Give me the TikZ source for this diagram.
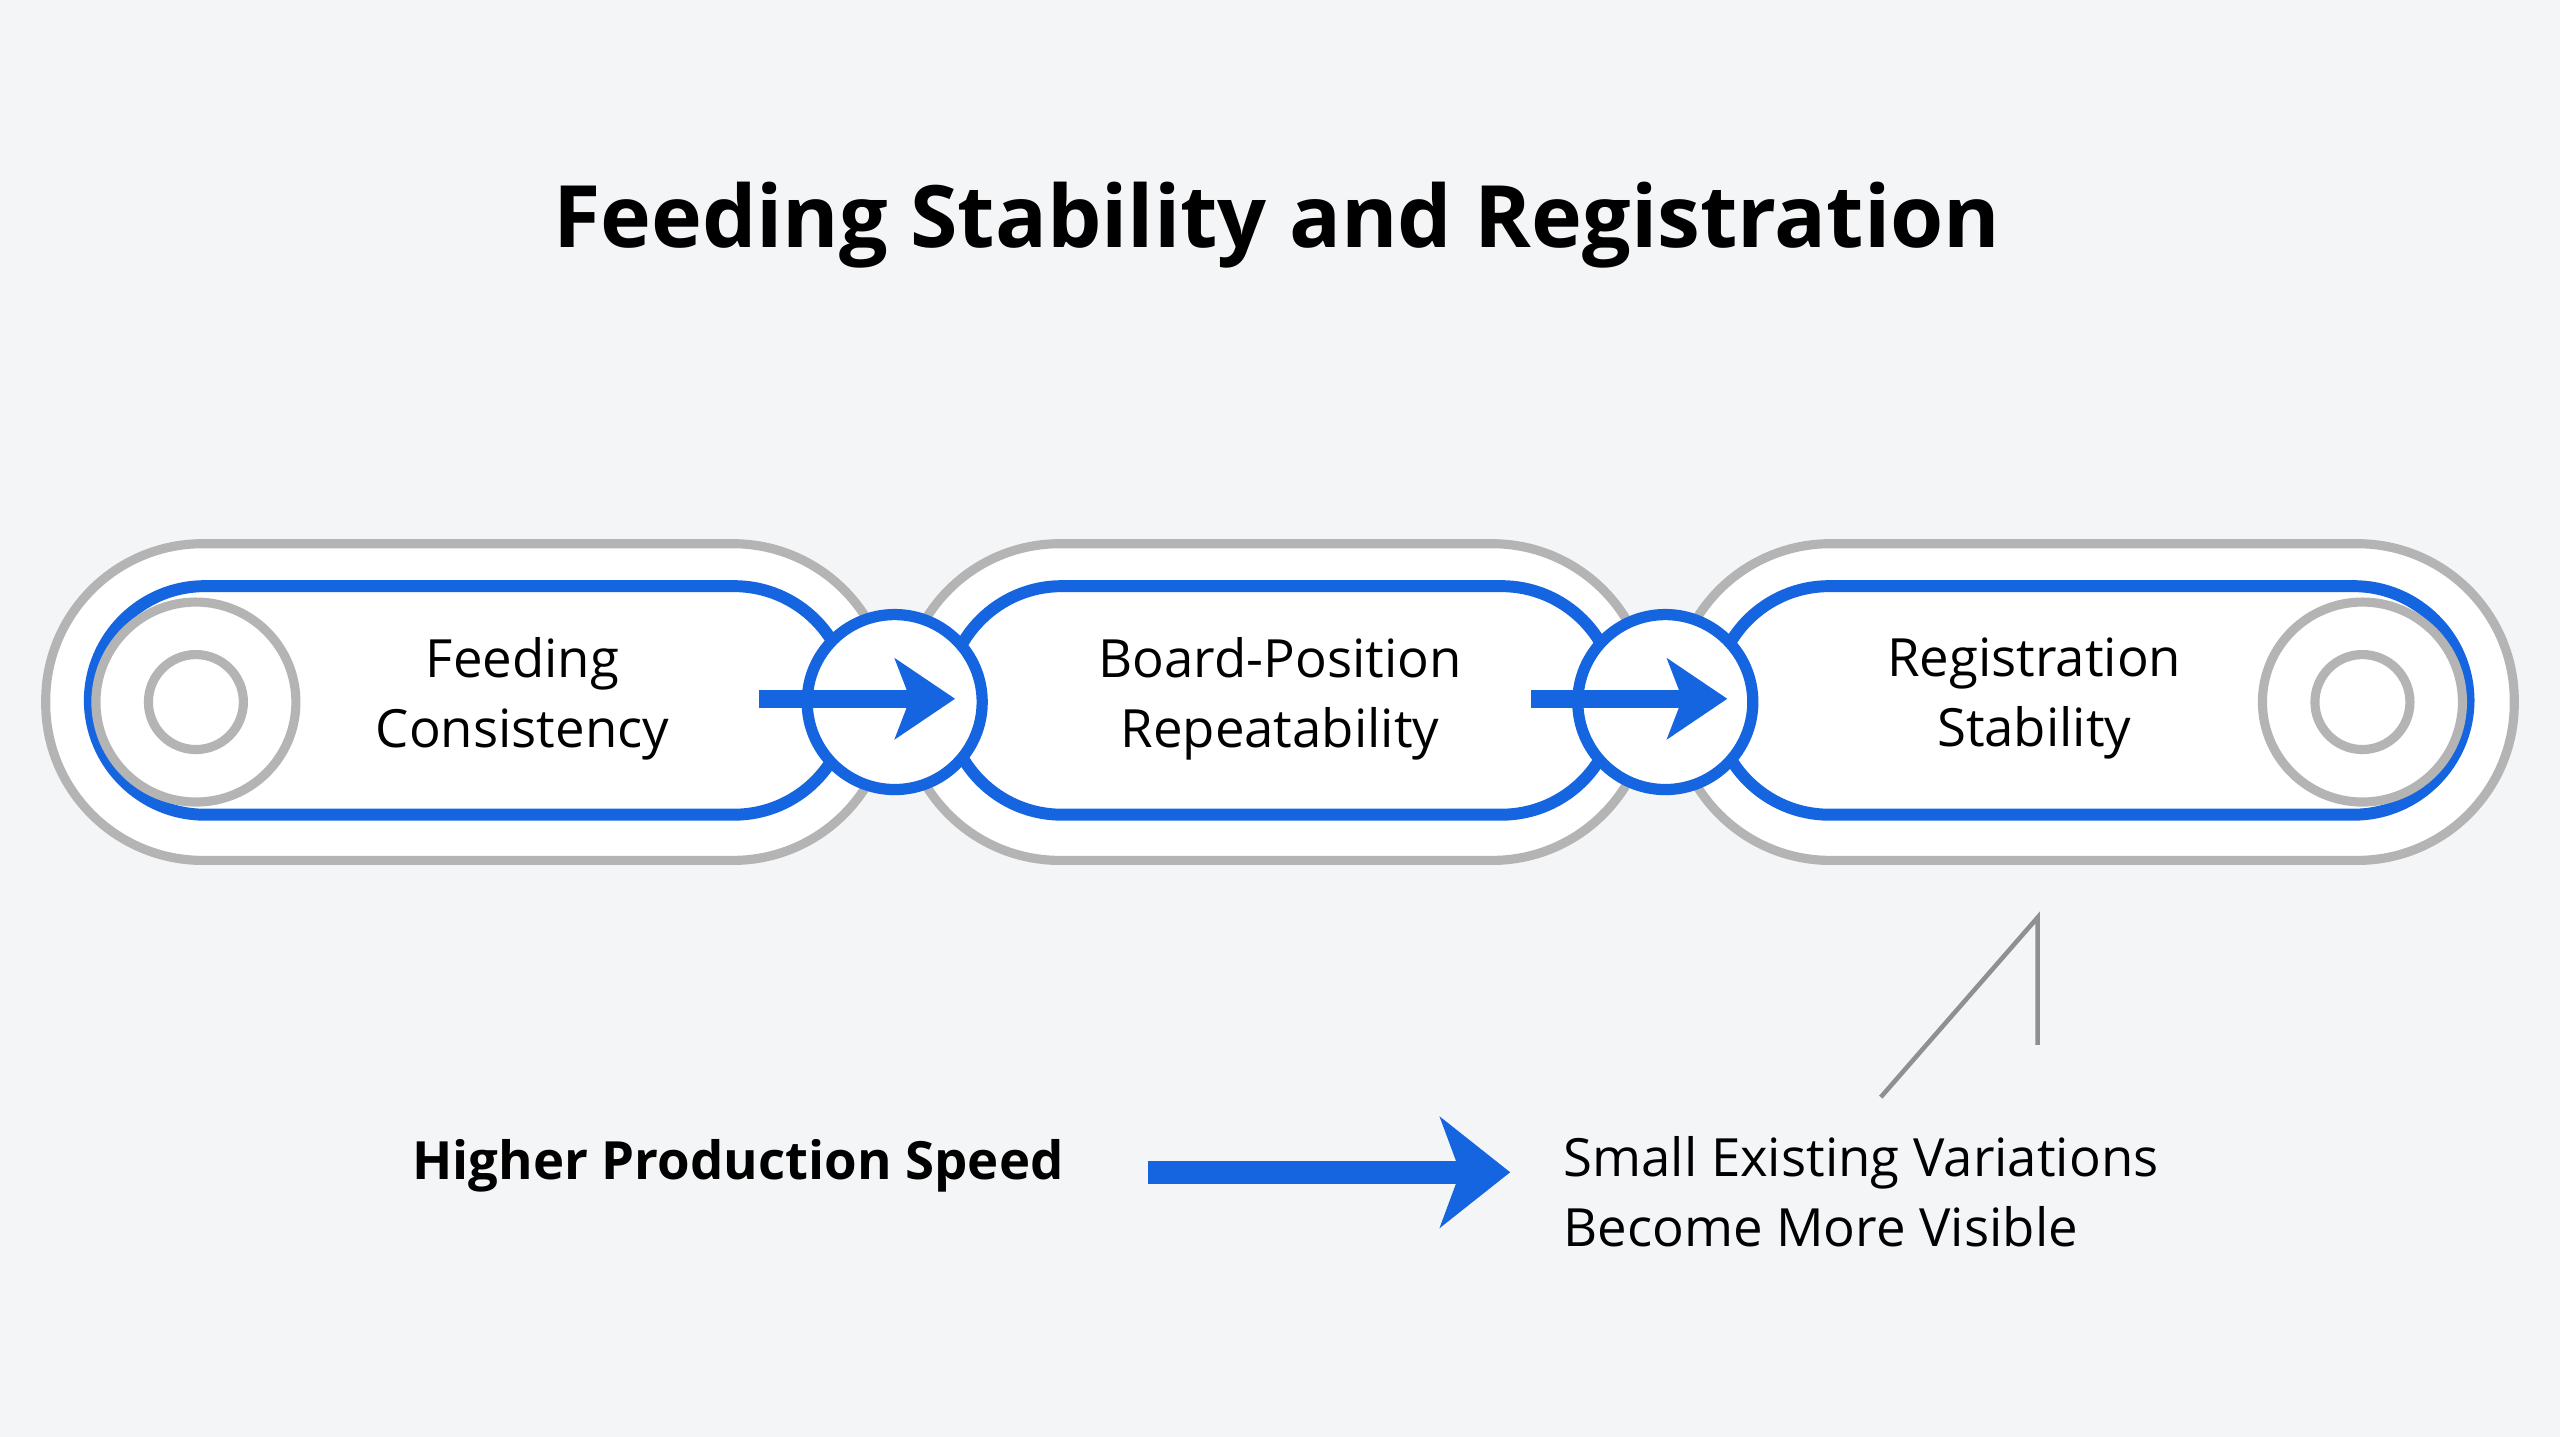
\documentclass[tikz,border=0pt]{standalone}
\usepackage{fontspec}
\setmainfont{Open Sans}
\usepackage{xcolor}
\usetikzlibrary{arrows.meta, positioning, calc}
\definecolor{bgray}{HTML}{F4F5F6}
\definecolor{lgray}{HTML}{B4B4B4}
\definecolor{mblue}{HTML}{1565E0}

\begin{document}
\begin{tikzpicture}[
    x=0.01633cm, y=-0.01633cm,
    joint/.style={circle, draw=mblue, line width=3.2pt, fill=white, minimum size=1.75cm},
    endring/.style={circle, draw=lgray, line width=2.6pt, fill=white, minimum size=#1},
    label/.style={align=center, font=\fontsize{15}{20}\selectfont},
    flow/.style={-{Stealth[length=6mm, width=8mm, inset=1.5mm]}, mblue, line width=5pt},
    bigflow/.style={-{Stealth[length=7mm, width=11mm, inset=2mm]}, mblue, line width=6.5pt}
]
\useasboundingbox (0,0) rectangle (1568,880);
\fill[bgray] (0,0) rectangle (1568,880);

% Title
\node[font=\fontsize{24.5}{30}\selectfont\bfseries] (title) at (782,138) {Feeding Stability and Registration};

% Outer gray capsules
\foreach \a/\b in {28/545, 553/1010, 1025/1540}
  \draw[lgray, line width=2.6pt, fill=white, rounded corners=1.57cm] (\a,333) rectangle (\b,527);

% Inner blue capsules
\foreach \a/\b in {55/520, 580/990, 1050/1512}
  \draw[mblue, line width=3.4pt, fill=white, rounded corners=1.15cm] (\a,359) rectangle (\b,499);

% End rings
\node[endring=2cm] (lend) at (120,430) {};
\node[endring=0.95cm] (lendi) at (120,430) {};
\node[endring=2cm] (rend) at (1447,430) {};
\node[endring=0.95cm] (rendi) at (1447,430) {};

% Texts
\node[label] (feed) at (320,428) {Feeding\\Consistency};
\node[label] (board) at (784,428) {Board-Position\\Repeatability};
\node[label] (reg) at (1246,428) {Registration\\Stability};

% Joints with arrows
\node[joint] (ja) at (548,430) {};
\node[joint] (jb) at (1020,430) {};
\coordinate (ja0) at (465,428);
\coordinate (ja1) at (585,428);
\coordinate (jb0) at (938,428);
\coordinate (jb1) at (1058,428);
\draw[flow] (ja0) -- (ja1);
\draw[flow] (jb0) -- (jb1);

% Pointer line
\coordinate (pa) at (1152,672);
\coordinate (pb) at (1248,562);
\coordinate (pc) at (1248,640);
\draw[lgray!80!black, line width=1.3pt] (pa) -- (pb) -- (pc);

% Bottom row
\node[font=\fontsize{15}{20}\selectfont\bfseries] (speed) at (452,714) {Higher Production Speed};
\node[label, align=left, anchor=west] (vis) at (950,730) {Small Existing Variations\\Become More Visible};
\coordinate (s0) at (703,718);
\coordinate (s1) at (925,718);
\draw[bigflow] (s0) -- (s1);

\end{tikzpicture}
\end{document}
